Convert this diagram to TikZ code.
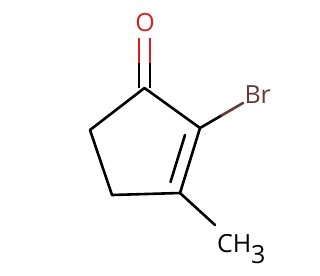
\documentclass[tikz,border=0pt]{standalone}
\usepackage{fontspec}
\setmainfont{Open Sans}
\usetikzlibrary{calc}
\definecolor{ored}{RGB}{220,30,35}
\definecolor{brc}{RGB}{100,58,58}
\tikzset{
  bond/.style={line width=2.6pt, line cap=round, line join=round, black},
  atom/.style={inner sep=0pt, outer sep=0pt, font=\fontsize{25}{25}\selectfont},
}
\begin{document}
\begin{tikzpicture}[x=1pt,y=-1pt]
\useasboundingbox (0,0) rectangle (320,275);
% ring atoms
\coordinate (C1) at (144.5,88);
\coordinate (C2) at (200,128);
\coordinate (C3) at (180,193);
\coordinate (C4) at (112,195);
\coordinate (C5) at (90,130);
% labels
\node[atom, text=ored] (O) at (145,23) {O};
\node[atom, text=brc, anchor=base west] (Br) at (244.5,103) {Br};
\node[atom, anchor=base west] (CH3) at (217,252) {CH\raisebox{-11pt}{3}};
% ring bonds
\draw[bond] (C5) -- (C1) -- (C2) -- (C3) -- (C4) -- (C5);
% inner double bond C2=C3
\coordinate (i1) at (185,135);
\coordinate (i2) at (170.5,182);
\draw[bond] (i1) -- (i2);
% C=O double bond
\coordinate (oa1) at ($(C1)+(-5.5,-50)$);
\coordinate (oam) at ($(C1)+(-5.5,-25)$);
\coordinate (oa2) at ($(C1)+(-5.5,0)$);
\coordinate (ob1) at ($(C1)+(5.5,-50)$);
\coordinate (obm) at ($(C1)+(5.5,-25)$);
\coordinate (ob2) at ($(C1)+(5.5,0)$);
\draw[bond, ored, line cap=butt] (oa1) -- (oam) (ob1) -- (obm);
\draw[bond, line cap=butt] (oam) -- (oa2) (obm) -- (ob2);
% C-Br
\coordinate (brend) at (243,103);
\coordinate (brmid) at ($(C2)!0.5!(brend)$);
\draw[bond] (C2) -- (brmid);
\draw[bond, brc] (brmid) -- (brend);
% C-CH3
\coordinate (meend) at (215,225);
\draw[bond] (C3) -- (meend);
\end{tikzpicture}
\end{document}
